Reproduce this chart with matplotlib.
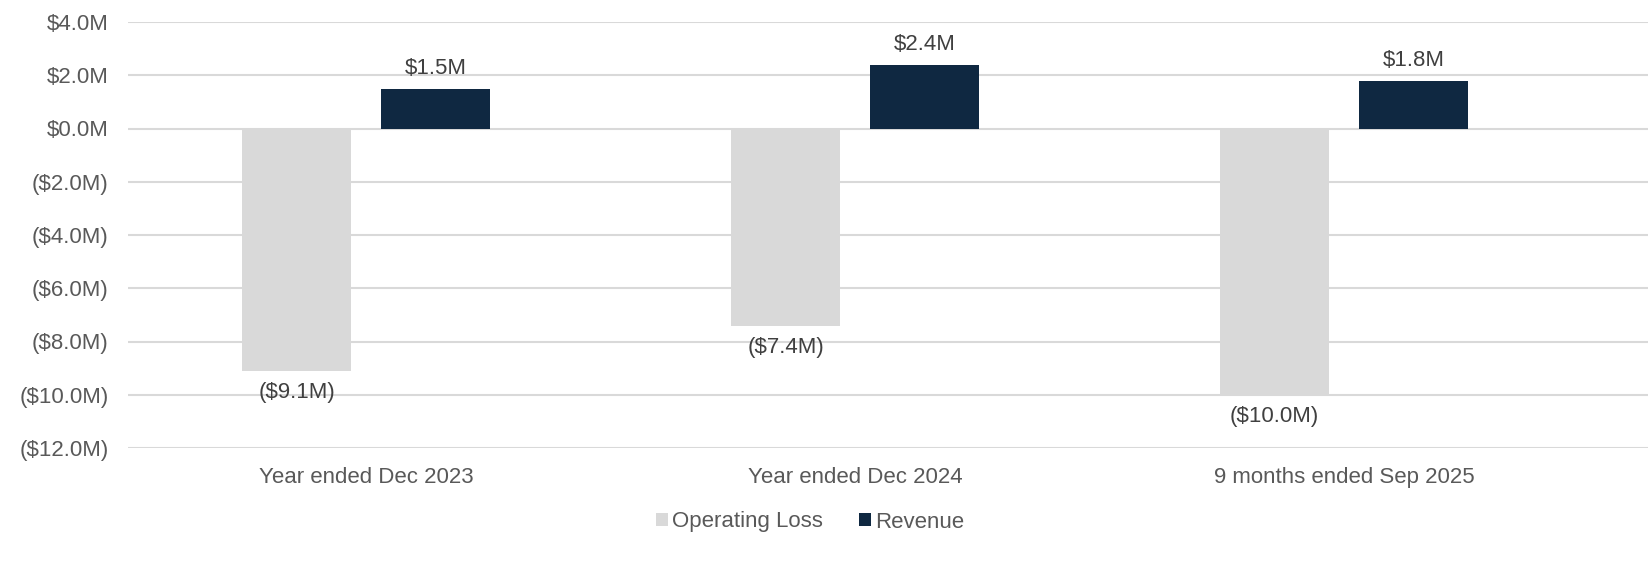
import numpy as np
import matplotlib.pyplot as plt
from matplotlib.patches import Patch

categories = ['Year ended Dec 2023', 'Year ended Dec 2024', '9 months ended Sep 2025']
operating_loss = [-9.1, -7.4, -10.0]
revenue = [1.5, 2.4, 1.8]
yticks = [4, 2, 0, -2, -4, -6, -8, -10, -12]

GREY = '#d9d9d9'
NAVY = '#0f2841'
TXT = '#595959'
FS = 16


def fmt(v):
    if v < 0:
        return '($%.1fM)' % abs(v)
    return '$%.1fM' % v


plt.rcParams['font.family'] = ['Liberation Sans', 'DejaVu Sans']

fig = plt.figure(figsize=(16.49, 5.63), dpi=100)
ax = fig.add_axes([128/1649., 115/563., 1 - 128/1649., 426/563.])

x = np.arange(len(categories))
w = 0.223
off = 0.142
ax.bar(x - off, operating_loss, w, color=GREY, zorder=3)
ax.bar(x + off, revenue, w, color=NAVY, zorder=3)

for i in range(len(categories)):
    ax.annotate(fmt(revenue[i]), (x[i] + off, revenue[i]), xytext=(0, 7),
                textcoords='offset points', ha='center', va='bottom',
                fontsize=FS, color='#404040')
    ax.annotate(fmt(operating_loss[i]), (x[i] - off, operating_loss[i]), xytext=(0, -8),
                textcoords='offset points', ha='center', va='top',
                fontsize=FS, color='#404040')

ax.set_xlim(-0.487, 2.624)
ax.set_ylim(-12, 4)
ax.set_yticks(yticks)
ax.set_yticklabels([fmt(v) for v in yticks])
ax.set_xticks(x)
ax.set_xticklabels(categories)
ax.tick_params(axis='both', length=0, labelsize=FS, labelcolor=TXT)
ax.tick_params(axis='y', pad=14)
ax.tick_params(axis='x', pad=14)
ax.grid(axis='y', color=GREY, linewidth=1.5, zorder=0)
for s in ax.spines.values():
    s.set_visible(False)

handles = [Patch(facecolor=GREY, label='Operating Loss'),
           Patch(facecolor=NAVY, label='Revenue')]
fig.legend(handles=handles, loc='center', bbox_to_anchor=(810/1649., 1 - 522/563.),
           ncol=2, frameon=False, fontsize=FS, labelcolor=TXT,
           handlelength=0.55, handleheight=0.55, handletextpad=0.2, columnspacing=1.6)

plt.savefig('out.png', dpi=100)
